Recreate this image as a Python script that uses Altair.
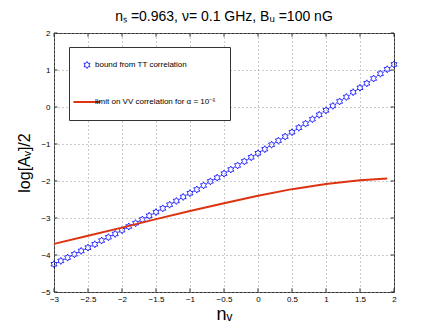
import altair as alt
import pandas as pd

# ---- data ----
nv_tt = [-3.0, -2.9, -2.8, -2.7, -2.6, -2.5, -2.4, -2.3, -2.2, -2.1,
         -2.0, -1.9, -1.8, -1.7, -1.6, -1.5, -1.4, -1.3, -1.2, -1.1,
         -1.0, -0.9, -0.8, -0.7, -0.6, -0.5, -0.4, -0.3, -0.2, -0.1,
         0.0, 0.1, 0.2, 0.3, 0.4, 0.5, 0.6, 0.7, 0.8, 0.9,
         1.0, 1.1, 1.2, 1.3, 1.4, 1.5, 1.6, 1.7, 1.8, 1.9, 2.0]
logA_tt = [-4.25, -4.16, -4.07, -3.98, -3.89, -3.80, -3.71, -3.61, -3.52, -3.43,
           -3.33, -3.23, -3.14, -3.04, -2.94, -2.84, -2.74, -2.64, -2.54, -2.43,
           -2.33, -2.23, -2.12, -2.01, -1.91, -1.80, -1.69, -1.58, -1.47, -1.36,
           -1.25, -1.14, -1.02, -0.91, -0.80, -0.68, -0.56, -0.45, -0.33, -0.21,
           -0.09, 0.03, 0.15, 0.27, 0.40, 0.52, 0.64, 0.77, 0.90, 1.02, 1.15]

nv_vv = [-3.0, -2.5, -2.0, -1.5, -1.0, -0.5, 0.0, 0.5, 1.0, 1.5, 1.9]
logA_vv = [-3.70, -3.48, -3.26, -3.03, -2.81, -2.60, -2.40, -2.22, -2.08, -1.98, -1.93]

series_names = ["bound from TT correlation",
                "limit on VV correlation for α = 10⁻⁶"]
series_colors = ["#0000ff", "#dd3311"]

x_ticks = [-3, -2.5, -2, -1.5, -1, -0.5, 0, 0.5, 1, 1.5, 2]
y_ticks = [-5, -4, -3, -2, -1, 0, 1, 2]

hexagram = ("M0,-1L-0.289,-0.5L-0.866,-0.5L-0.577,0L-0.866,0.5L-0.289,0.5"
            "L0,1L0.289,0.5L0.866,0.5L0.577,0L0.866,-0.5L0.289,-0.5Z")

df_tt = pd.DataFrame({"nv": nv_tt, "logA": logA_tt, "series": series_names[0]})
df_vv = pd.DataFrame({"nv": nv_vv, "logA": logA_vv, "series": series_names[1]})

xscale = alt.Scale(domain=[-3, 2], nice=False, zero=False)
yscale = alt.Scale(domain=[-5, 2], nice=False, zero=False)

shape = alt.Shape(
    "series:N",
    scale=alt.Scale(domain=series_names, range=[hexagram, "stroke"]),
    legend=alt.Legend(
        title=None, orient="none", legendX=15, legendY=14,
        padding=14, rowPadding=27, labelFontSize=8, labelOffset=4,
        strokeColor="#333", fillColor="white",
        labelColor="#000", labelLimit=300,
        symbolFillColor="transparent",
        symbolStrokeColor=alt.ExprRef(
            "datum.index === 0 ? '" + series_colors[0] + "' : '" + series_colors[1] + "'"),
        symbolStrokeWidth=alt.ExprRef("datum.index === 0 ? 0.8 : 2"),
        symbolSize=alt.ExprRef("datum.index === 0 ? 49 : 729"),
    ),
)

x_axis = alt.Axis(values=x_ticks, format="~g", title="nᵥ", titleFontSize=18,
                  titleFontWeight="normal", labelFontSize=8, labelPadding=3,
                  labelOverlap=False, labelFlush=False,
                  ticks=False, domain=False, grid=True, gridDash=[1, 3],
                  gridColor="#999", titlePadding=2, labelColor="#000")
y_axis = alt.Axis(values=y_ticks, format="d", title="log[Aᵥ]/2", titleFontSize=16,
                  titleFontWeight="normal", labelFontSize=8, labelPadding=4,
                  labelOverlap=False, labelFlush=False,
                  ticks=False, domain=False, grid=True, gridDash=[1, 3],
                  gridColor="#999", titlePadding=8, labelColor="#000")

X = alt.X("nv:Q", scale=xscale, axis=x_axis)
Y = alt.Y("logA:Q", scale=yscale, axis=y_axis)

points = alt.Chart(df_tt).mark_point(filled=False, size=49, color=series_colors[0],
                                     strokeWidth=0.8, opacity=1).encode(
    x=X, y=Y, shape=shape,
)
line = alt.Chart(df_vv).mark_line(strokeWidth=2, color=series_colors[1]).encode(
    x=X, y=Y,
)

# inward tick marks on all four sides (lengths in data units)
xt = pd.DataFrame({"t": x_ticks})
yt = pd.DataFrame({"t": y_ticks})
tick_style = dict(color="#333", strokeWidth=1)
TX = alt.X("t:Q", scale=xscale, axis=x_axis)
TY = alt.Y("t:Q", scale=yscale, axis=y_axis)
top_ticks = alt.Chart(xt).mark_rule(**tick_style).encode(
    x=TX, y=alt.datum(2, scale=yscale, axis=y_axis), y2=alt.datum(1.9))
bot_ticks = alt.Chart(xt).mark_rule(**tick_style).encode(
    x=TX, y=alt.datum(-5, scale=yscale, axis=y_axis), y2=alt.datum(-4.9))
left_ticks = alt.Chart(yt).mark_rule(**tick_style).encode(
    y=TY, x=alt.datum(-3, scale=xscale, axis=x_axis), x2=alt.datum(-2.95))
right_ticks = alt.Chart(yt).mark_rule(**tick_style).encode(
    y=TY, x=alt.datum(2, scale=xscale, axis=x_axis), x2=alt.datum(1.95))

chart = alt.layer(
    points, line, top_ticks, bot_ticks, left_ticks, right_ticks
).properties(
    width=340, height=259,
    title=alt.Title("nₛ =0.963, ν= 0.1 GHz, Bᵤ =100 nG", fontSize=14,
                    fontWeight="normal", color="#000", offset=5),
    padding={"left": 8, "top": 2, "right": 5, "bottom": 5},
).configure(
    font="Liberation Sans",
).configure_view(
    stroke="#333", strokeWidth=1,
).configure_axis(
    titleColor="#000",
)

chart.save("out.html", embed_options={"renderer": "svg", "actions": False})
